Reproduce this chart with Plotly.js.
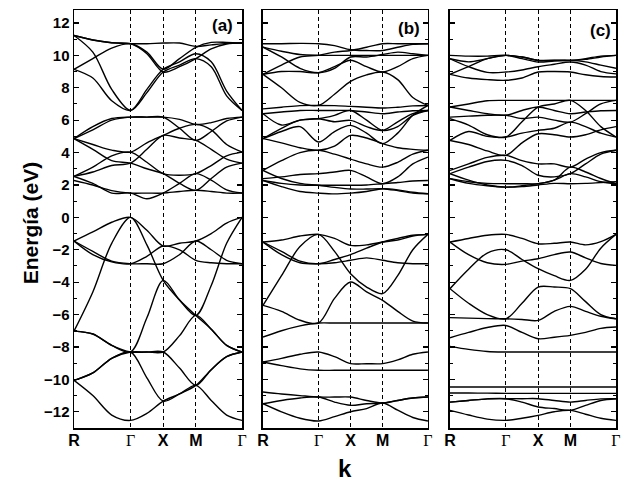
<!DOCTYPE html>
<html>
<head>
<meta charset="utf-8">
<script src="https://cdn.plot.ly/plotly-3.0.1.min.js"></script>
<style>html,body{margin:0;padding:0;background:#fff}#chart{width:626px;height:486px}</style>
</head>
<body>
<div id="chart"></div>
<script>
// k-path sample positions: R, 1/3, 2/3, Γ, mid, X, mid, M, 1/3, 2/3, Γ
const kPath = [0, 0.577, 1.155, 1.732, 2.232, 2.732, 3.232, 3.732, 4.203, 4.675, 5.146];
const kTickVals = [0, 1.732, 2.732, 3.732, 5.146];
const kTickText = ['R', '<span style="font-family:Liberation Serif;font-weight:normal">Γ</span>', 'X', 'M', '<span style="font-family:Liberation Serif;font-weight:normal">Γ</span>'];
const energyTicks = [-12, -10, -8, -6, -4, -2, 0, 2, 4, 6, 8, 10, 12];
const panelLabels = ['(a)', '(b)', '(c)'];

// ---------- panel (a) ----------
const a_c1 = [11.23, 10.95, 10.78, 10.72, 10.72, 10.76, 10.76, 10.55, 10.65, 10.74, 10.76];
const a_c2 = [11.23, 10.2, 7.9, 6.6, 7.7, 8.97, 9.4, 9.8, 9.3, 7.5, 6.6];
const a_c3 = [9.14, 9.8, 10.45, 10.72, 10.2, 9.14, 9.8, 10.5, 10.8, 10.8, 10.76];
const a_c4 = [9.14, 8.6, 7.2, 6.6, 7.9, 9.14, 9.6, 10.1, 9.6, 7.8, 6.6];
const a_c5 = [11.23, 10.95, 10.78, 10.72, 10.1, 8.97, 9.3, 9.8, 10.4, 10.7, 10.76];
const a_m1 = [4.86, 5.6, 6.1, 6.19, 6.19, 6.19, 5.5, 4.75, 5.3, 5.95, 6.19];
const a_m2 = [4.86, 5.4, 6.0, 6.19, 6.19, 6.19, 6.05, 5.74, 5.85, 6.1, 6.19];
const a_m3 = [4.86, 4.5, 4.15, 4.03, 4.6, 5.06, 5.5, 5.74, 5.4, 4.5, 4.03];
const a_m4 = [2.53, 3.1, 3.8, 4.03, 3.4, 2.7, 2.6, 2.7, 3.2, 3.8, 4.03];
const a_m5 = [2.53, 2.8, 3.2, 3.35, 4.2, 5.06, 4.9, 4.75, 4.2, 3.6, 3.35];
const a_m6 = [2.28, 2.0, 1.65, 1.5, 1.5, 1.5, 1.6, 1.67, 1.6, 1.5, 1.5];
const a_m7 = [2.53, 2.1, 1.5, 1.5, 1.15, 1.5, 2.1, 2.7, 2.3, 1.7, 1.5];
const a_m8 = [4.86, 4.2, 3.5, 3.35, 3.0, 2.7, 2.1, 1.67, 2.4, 3.1, 3.35];
const a_v1 = [-1.46, -0.9, -0.3, 0, -0.8, -1.77, -1.6, -1.46, -1.0, -0.35, 0];
const a_v2 = [-1.46, -2.1, -2.7, -2.86, -2.86, -2.86, -2.3, -1.46, -2.0, -2.65, -2.86];
const a_v3 = [-1.46, -2.3, -2.75, -2.86, -2.4, -1.77, -2.0, -2.65, -2.8, -2.86, -2.86];
const a_v4 = [-7.02, -4.6, -1.6, 0, -1.7, -3.89, -5.1, -6.05, -4.2, -1.6, 0];
const a_v5 = [-7.02, -7.2, -7.9, -8.31, -8.31, -8.31, -7.3, -6.05, -6.9, -7.9, -8.31];
const a_v6 = [-10.06, -9.6, -8.7, -8.31, -9.9, -11.34, -10.9, -10.37, -9.4, -8.6, -8.31];
const a_v7 = [-10.06, -11.0, -12.2, -12.53, -12.1, -11.34, -10.9, -10.37, -11.3, -12.2, -12.53];
const a_v8 = [-10.06, -9.6, -8.7, -8.31, -8.31, -8.31, -9.3, -10.37, -9.4, -8.6, -8.31];
const a_v9 = [-7.02, -7.2, -7.9, -8.31, -6.2, -3.89, -5.1, -6.05, -6.9, -7.9, -8.31];
const bandsA = [a_c1, a_c2, a_c3, a_c4, a_c5, a_m1, a_m2, a_m3, a_m4, a_m5, a_m6, a_m7, a_m8,
                a_v1, a_v2, a_v3, a_v4, a_v5, a_v6, a_v7, a_v8, a_v9];

// ---------- panel (b) ----------
const b_u1 = [10.72, 10.72, 10.74, 10.72, 10.6, 10.35, 10.3, 10.3, 10.5, 10.68, 10.72];
const b_u2 = [10.51, 10.25, 10.05, 10.0, 10.0, 10.0, 10.0, 10.0, 10.0, 10.0, 10.0];
const b_u3 = [10.51, 9.9, 9.2, 8.93, 9.2, 9.9, 9.9, 10.05, 10.2, 10.1, 10.0];
const b_u4 = [8.83, 9.4, 9.9, 10.0, 10.2, 10.3, 10.5, 10.72, 10.72, 10.72, 10.72];
const b_u5 = [8.83, 8.0, 7.1, 6.91, 7.6, 8.4, 8.8, 8.97, 8.5, 7.4, 6.91];
const b_u6 = [8.83, 9.0, 9.0, 8.93, 9.3, 9.7, 9.3, 8.97, 9.3, 9.8, 10.0];
const b_m1 = [6.7, 6.8, 6.9, 6.91, 6.9, 6.85, 6.8, 6.75, 6.8, 6.88, 6.91];
const b_m2 = [6.4, 6.5, 6.6, 6.6, 6.6, 6.6, 6.5, 6.4, 6.5, 6.58, 6.6];
const b_m3 = [6.4, 5.7, 6.0, 6.09, 6.3, 6.6, 6.0, 5.37, 5.6, 6.3, 6.6];
const b_m4 = [4.86, 5.5, 6.0, 6.09, 5.9, 5.99, 5.6, 5.37, 5.9, 6.4, 6.6];
const b_m5 = [4.86, 5.3, 5.6, 4.65, 5.3, 5.68, 5.2, 4.55, 5.2, 6.3, 6.91];
const b_m6 = [4.86, 4.6, 4.3, 4.14, 4.4, 5.06, 4.9, 4.55, 4.3, 4.2, 4.14];
const b_m7 = [2.9, 3.5, 4.0, 4.14, 3.9, 3.6, 3.3, 3.1, 3.4, 3.9, 4.14];
const b_m8 = [2.39, 2.5, 2.65, 2.7, 2.8, 2.9, 2.5, 2.08, 2.5, 3.3, 3.72];
const b_m9 = [2.28, 2.1, 2.0, 1.98, 1.98, 1.98, 2.0, 2.08, 2.15, 2.25, 2.28];
const b_m10 = [2.9, 2.4, 2.1, 1.98, 1.85, 1.75, 1.75, 1.77, 1.65, 1.5, 1.46];
const b_m11 = [2.28, 1.9, 1.6, 1.5, 1.45, 1.5, 1.6, 1.77, 1.7, 1.55, 1.46];
const b_v1 = [-1.52, -1.4, -1.15, -1.05, -1.3, -1.73, -1.7, -1.52, -1.4, -1.15, -1.05];
const b_v2 = [-1.52, -2.3, -2.8, -2.86, -2.8, -2.65, -2.5, -2.65, -2.8, -2.86, -2.86];
const b_v3 = [-1.52, -2.1, -2.7, -2.86, -2.6, -2.3, -1.9, -1.52, -1.3, -1.1, -1.05];
const b_v4 = [-5.43, -3.6, -1.8, -1.05, -2.1, -3.48, -4.3, -4.71, -3.6, -2.0, -1.05];
const b_v5 = [-5.43, -5.8, -6.35, -6.52, -5.0, -3.99, -4.6, -5.12, -5.8, -6.4, -6.52];
const b_v6 = [-7.39, -7.0, -6.7, -6.52, -6.52, -6.52, -6.52, -6.52, -6.52, -6.52, -6.52];
const b_v7 = [-8.93, -8.7, -8.45, -8.31, -8.6, -9.03, -9.03, -9.03, -8.8, -8.45, -8.31];
const b_v8 = [-8.93, -9.15, -9.35, -9.44, -9.44, -9.44, -9.44, -9.44, -9.44, -9.44, -9.44];
const b_v9 = [-10.78, -10.9, -11.0, -11.09, -11.09, -11.09, -11.3, -11.46, -11.3, -11.15, -11.09];
const b_v10 = [-11.5, -11.3, -11.15, -11.09, -11.4, -11.6, -11.5, -11.46, -11.3, -11.15, -11.09];
const b_v11 = [-11.5, -12.0, -12.4, -12.57, -12.3, -12.0, -11.8, -11.46, -11.9, -12.35, -12.57];
const bandsB = [b_u1, b_u2, b_u3, b_u4, b_u5, b_u6, b_m1, b_m2, b_m3, b_m4, b_m5, b_m6, b_m7, b_m8, b_m9, b_m10, b_m11,
                b_v1, b_v2, b_v3, b_v4, b_v5, b_v6, b_v7, b_v8, b_v9, b_v10, b_v11];

// ---------- panel (c) ----------
const c_u1 = [10.0, 9.95, 9.95, 10.0, 9.8, 9.59, 9.65, 9.69, 9.8, 9.95, 10.0];
const c_u2 = [9.79, 9.6, 9.8, 10.0, 9.9, 9.69, 9.7, 9.69, 9.75, 9.9, 10.0];
const c_u3 = [9.79, 9.3, 8.95, 8.97, 9.1, 9.3, 9.45, 9.59, 9.4, 9.0, 8.86];
const c_u4 = [8.83, 9.3, 9.8, 10.0, 9.9, 9.69, 9.69, 9.69, 9.6, 9.4, 9.2];
const c_u5 = [8.83, 8.6, 8.5, 8.46, 8.6, 8.97, 9.0, 8.97, 8.8, 8.7, 8.66];
const c_m1 = [6.81, 7.0, 7.2, 7.22, 7.22, 7.22, 7.22, 7.22, 7.22, 7.22, 7.22];
const c_m2 = [6.81, 6.6, 6.4, 6.3, 6.6, 6.81, 6.6, 6.4, 6.5, 6.58, 6.6];
const c_m3 = [6.19, 6.25, 6.3, 6.3, 6.1, 6.19, 6.0, 5.88, 6.4, 7.0, 7.22];
const c_m4 = [6.09, 5.7, 5.1, 4.96, 5.9, 6.81, 7.0, 7.22, 6.6, 5.6, 4.96];
const c_m5 = [4.75, 5.3, 5.0, 4.96, 5.2, 5.37, 5.5, 5.88, 5.6, 5.2, 4.96];
const c_m6 = [4.75, 4.5, 4.1, 3.83, 4.6, 5.16, 5.1, 4.96, 5.1, 5.4, 5.6];
const c_m7 = [2.9, 3.3, 3.7, 3.83, 3.5, 3.3, 3.3, 3.1, 3.6, 4.0, 4.14];
const c_m8 = [2.7, 3.1, 3.45, 3.52, 3.2, 2.6, 2.5, 2.7, 3.3, 3.9, 4.14];
const c_m9 = [2.39, 2.2, 2.1, 2.08, 2.08, 2.08, 2.3, 2.7, 2.5, 2.2, 2.08];
const c_m10 = [2.7, 2.3, 2.0, 1.87, 1.95, 2.08, 2.3, 3.1, 2.8, 2.4, 2.08];
const c_m11 = [2.39, 2.1, 1.95, 1.87, 1.9, 2.0, 2.1, 2.08, 2.1, 2.15, 2.2];
const c_v1 = [-1.52, -1.3, -1.1, -1.05, -1.3, -1.63, -1.6, -1.52, -1.7, -1.5, -1.05];
const c_v2 = [-1.52, -2.3, -2.8, -2.9, -2.7, -2.55, -2.3, -2.14, -2.5, -2.85, -2.96];
const c_v3 = [-4.4, -3.2, -2.2, -2.0, -2.6, -3.17, -3.6, -3.89, -3.2, -1.9, -1.05];
const c_v4 = [-4.4, -5.3, -6.0, -6.26, -5.3, -4.3, -4.3, -4.4, -5.2, -6.0, -6.26];
const c_v5 = [-6.19, -6.22, -6.25, -6.26, -6.3, -6.36, -5.8, -5.49, -5.8, -6.1, -6.26];
const c_v6 = [-7.43, -7.1, -6.8, -6.67, -7.1, -7.49, -7.4, -7.28, -7.1, -6.85, -6.77];
const c_v7 = [-7.96, -8.15, -8.28, -8.31, -8.31, -8.31, -8.31, -8.31, -8.31, -8.31, -8.31];
const c_v8 = [-10.47, -10.47, -10.47, -10.47, -10.47, -10.47, -10.47, -10.47, -10.47, -10.47, -10.47];
const c_v9 = [-10.84, -10.84, -10.85, -10.86, -10.86, -10.86, -10.86, -10.86, -10.86, -10.86, -10.86];
const c_v10 = [-11.4, -11.3, -11.2, -11.19, -11.4, -11.7, -11.8, -11.91, -11.6, -11.3, -11.19];
const c_v11 = [-11.91, -12.2, -12.45, -12.53, -12.4, -12.22, -12.0, -11.91, -12.15, -12.4, -12.53];
const c_v12 = [-11.4, -11.3, -11.2, -11.19, -11.19, -11.19, -11.3, -11.4, -11.3, -11.2, -11.19];
const bandsC = [c_u1, c_u2, c_u3, c_u4, c_u5, c_m1, c_m2, c_m3, c_m4, c_m5, c_m6, c_m7, c_m8, c_m9, c_m10, c_m11,
                c_v1, c_v2, c_v3, c_v4, c_v5, c_v6, c_v7, c_v8, c_v9, c_v10, c_v11, c_v12];

const panels = [bandsA, bandsB, bandsC];
const axisIds = [['x', 'y'], ['x2', 'y2'], ['x3', 'y3']];

const traces = [];
panels.forEach((bands, p) => {
  bands.forEach(b => {
    traces.push({
      x: kPath, y: b, xaxis: axisIds[p][0], yaxis: axisIds[p][1],
      type: 'scatter', mode: 'lines',
      line: {color: '#000', width: 1.4, shape: 'spline', smoothing: 0.9},
      hoverinfo: 'skip', showlegend: false
    });
  });
});

const boldFont = {family: 'Liberation Sans, Arial, sans-serif', color: '#000', weight: 'bold'};
const domains = [[0, 0.31], [0.3487, 0.653], [0.6937, 1.0]];

function xAxis(i) {
  return {
    domain: domains[i], range: [0, 5.146], anchor: axisIds[i][1],
    tickmode: 'array', tickvals: kTickVals, ticktext: kTickText,
    ticks: '', showline: true, mirror: true, linecolor: '#000', linewidth: 1.5,
    showgrid: true, gridcolor: '#000', gridwidth: 1, griddash: '4px,3px',
    zeroline: false, tickfont: Object.assign({size: 16}, boldFont), ticklabelstandoff: -3
  };
}
function yAxis(i) {
  return {
    domain: [0, 1], range: [-13.0, 12.8], anchor: axisIds[i][0],
    tickmode: 'array', tickvals: energyTicks, showticklabels: i === 0,
    ticks: 'inside', ticklen: 5, tickwidth: 1.3, tickcolor: '#000',
    minor: {tickmode: 'linear', tick0: 1, dtick: 2, ticks: 'inside', ticklen: 3, tickwidth: 1, tickcolor: '#000'},
    showline: true, mirror: 'ticks', linecolor: '#000', linewidth: 1.5,
    showgrid: false, zeroline: false,
    tickfont: Object.assign({size: 15}, boldFont)
  };
}

const labelPos = [[0.958, 0.963], [0.964, 0.956], [0.98, 0.952]];
const annotations = panelLabels.map((t, i) => ({
  text: t, xref: (i === 0 ? 'x' : 'x' + (i + 1)) + ' domain', yref: (i === 0 ? 'y' : 'y' + (i + 1)) + ' domain',
  x: labelPos[i][0], y: labelPos[i][1], xanchor: 'right', yanchor: 'middle', showarrow: false,
  font: Object.assign({size: 17}, boldFont)
}));
annotations.push({
  text: 'Energía (eV)', xref: 'paper', yref: 'paper', x: -0.081, y: 0.49, textangle: -90,
  xanchor: 'center', yanchor: 'middle', showarrow: false, font: Object.assign({size: 21}, boldFont)
});
annotations.push({
  text: 'k', xref: 'paper', yref: 'paper', x: 0.5, y: -0.096,
  xanchor: 'center', yanchor: 'middle', showarrow: false, font: Object.assign({size: 24}, boldFont)
});

const layout = {
  width: 626, height: 486,
  margin: {l: 74, r: 10, t: 10, b: 58},
  paper_bgcolor: '#fff', plot_bgcolor: '#fff',
  showlegend: false,
  xaxis: xAxis(0), xaxis2: xAxis(1), xaxis3: xAxis(2),
  yaxis: yAxis(0), yaxis2: yAxis(1), yaxis3: yAxis(2),
  annotations: annotations
};

Plotly.newPlot('chart', traces, layout, {displayModeBar: false, staticPlot: true});
</script>
</body>
</html>
